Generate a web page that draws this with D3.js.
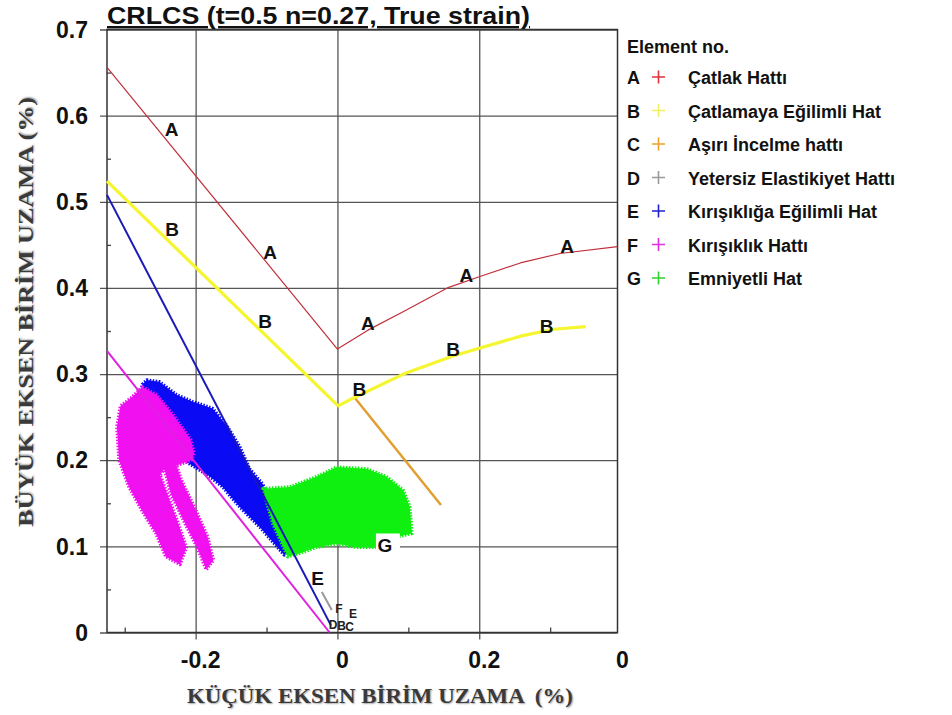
<!DOCTYPE html>
<html>
<head>
<meta charset="utf-8">
<script src="https://cdn.jsdelivr.net/npm/d3@7"></script>
<style>
  body { margin: 0; background: #fff; }
  svg { display: block; }
  .sans { font-family: "Liberation Sans", Arial, sans-serif; font-weight: bold; }
  .serif { font-family: "Liberation Serif", "Times New Roman", serif; font-weight: bold; fill: #3a3a3a; text-shadow: 1px 1px 1.5px #aaa; white-space: pre; }
</style>
</head>
<body>
<svg id="chart" width="952" height="715"></svg>
<script>
// ---- data ----
const aX = [-0.325, 0.0, 0.043, 0.092, 0.155, 0.2, 0.258, 0.314, 0.395];
const aY = [0.656, 0.329, 0.351, 0.372, 0.400, 0.413, 0.429, 0.440, 0.448];

const bX = [-0.325, 0.001, 0.022, 0.093, 0.163, 0.2, 0.258, 0.305, 0.35];
const bY = [0.524, 0.263, 0.272, 0.300, 0.321, 0.330, 0.344, 0.352, 0.355];

const cX = [0.025, 0.146];
const cY = [0.272, 0.148];

const dX = [-0.022, -0.008];
const dY = [0.047, 0.026];

const eX = [-0.325, -0.009];
const eY = [0.508, 0.008];

const fX = [-0.325, -0.011];
const fY = [0.327, 0.0];

// point clouds, outline of the dense "+" markers
const blueCloud = [
  [-0.275, 0.288], [-0.269, 0.293], [-0.251, 0.291], [-0.227, 0.276], [-0.204, 0.268],
  [-0.176, 0.260], [-0.156, 0.240], [-0.138, 0.216], [-0.124, 0.190], [-0.105, 0.172],
  [-0.091, 0.127], [-0.072, 0.092], [-0.075, 0.090], [-0.109, 0.122], [-0.138, 0.146],
  [-0.162, 0.169], [-0.180, 0.181], [-0.199, 0.191], [-0.213, 0.198], [-0.230, 0.210],
  [-0.260, 0.240], [-0.280, 0.270]
];
const magentaCloud = [
  [-0.275, 0.285], [-0.290, 0.273], [-0.306, 0.263], [-0.311, 0.239], [-0.308, 0.200],
  [-0.294, 0.169], [-0.276, 0.142], [-0.256, 0.115], [-0.242, 0.088], [-0.222, 0.079],
  [-0.213, 0.099], [-0.226, 0.130], [-0.240, 0.161], [-0.250, 0.183], [-0.244, 0.190],
  [-0.235, 0.161], [-0.217, 0.130], [-0.198, 0.099], [-0.185, 0.073], [-0.175, 0.084],
  [-0.183, 0.111], [-0.202, 0.146], [-0.220, 0.177], [-0.227, 0.194], [-0.206, 0.200],
  [-0.202, 0.208], [-0.207, 0.224], [-0.231, 0.252], [-0.255, 0.276]
];
const greenCloud = [
  [-0.105, 0.167], [-0.067, 0.169], [-0.029, 0.181], [-0.001, 0.192], [0.041, 0.190],
  [0.069, 0.181], [0.093, 0.165], [0.102, 0.146], [0.105, 0.115], [0.084, 0.111],
  [0.060, 0.099], [0.027, 0.099], [-0.001, 0.103], [-0.029, 0.099], [-0.053, 0.092],
  [-0.070, 0.088], [-0.091, 0.126]
];

// letters written on the curves [text, x, y]
const curveLabels = [
  ["A", -0.234, 0.584], ["A", -0.095, 0.441], ["A", 0.043, 0.359], ["A", 0.182, 0.415], ["A", 0.324, 0.449],
  ["B", -0.233, 0.468], ["B", -0.102, 0.362], ["B", 0.031, 0.282], ["B", 0.163, 0.329], ["B", 0.295, 0.356],
  ["E", -0.028, 0.063]
];
// small cluster of letters at the origin
const originLabels = [
  ["F", 0.002, 0.028], ["E", 0.022, 0.022], ["D", -0.006, 0.009], ["B", 0.006, 0.008], ["C", 0.017, 0.007]
];
const gLabel = ["G", 0.067, 0.101];

const xMajor = [-0.2, 0, 0.2];
const xMinor = [-0.3, -0.1, 0.1, 0.3];
const xLabelAt = [-0.2, 0, 0.2, 0.395];
const xLabelText = ["-0.2", "0", "0.2", "0"];
const yMajor = [0, 0.1, 0.2, 0.3, 0.4, 0.5, 0.6, 0.7];
const yMinor = [0.05, 0.15, 0.25, 0.35, 0.45, 0.55, 0.65];

const legendKeys = ["A", "B", "C", "D", "E", "F", "G"];
const legendNames = ["Çatlak Hattı", "Çatlamaya Eğilimli Hat", "Aşırı İncelme hattı",
  "Yetersiz Elastikiyet Hattı", "Kırışıklığa Eğilimli Hat", "Kırışıklık Hattı", "Emniyetli Hat"];
const legendColors = ["#e0303a", "#f0f060", "#e8a030", "#9a9a9a", "#2020d0", "#e030e0", "#30d030"];

// ---- layout ----
const svg = d3.select("#chart");
const pLeft = 107, pRight = 617.5, pTop = 29.5, pBottom = 632.5;
const x = d3.scaleLinear().domain([-0.325, 0.395]).range([pLeft, pRight]);
const y = d3.scaleLinear().domain([0, 0.7]).range([pBottom, pTop]);
const zip = (xs, ys) => xs.map((v, i) => [v, ys[i]]);
const line = d3.line().x(d => x(d[0])).y(d => y(d[1]));

// grid
const gridX = svg.append("g").attr("transform", `translate(0,${pTop})`)
  .call(d3.axisBottom(x).tickValues(xMajor).tickSize(pBottom - pTop + 7).tickFormat(""));
const gridY = svg.append("g").attr("transform", `translate(${pRight},0)`)
  .call(d3.axisRight(y).tickValues(yMajor).tickSize(-(pRight - pLeft + 7)).tickFormat(""));
[gridX, gridY].forEach(g => {
  g.select(".domain").remove();
  g.selectAll("line").attr("stroke", "#555").attr("stroke-width", 1.3);
});

// minor ticks
const mX = svg.append("g").attr("transform", `translate(0,${pBottom})`)
  .call(d3.axisBottom(x).tickValues(xMinor).tickSize(-5).tickFormat(""));
const mY = svg.append("g").attr("transform", `translate(${pLeft},0)`)
  .call(d3.axisLeft(y).tickValues(yMinor).tickSize(-4).tickFormat(""));
[mX, mY].forEach(g => {
  g.select(".domain").remove();
  g.selectAll("line").attr("stroke", "#444").attr("stroke-width", 1.3);
});

// frame
svg.append("rect").attr("x", pLeft).attr("y", pTop)
  .attr("width", pRight - pLeft).attr("height", pBottom - pTop)
  .attr("fill", "none").attr("stroke", "#333").attr("stroke-width", 1.5);

// clouds
const cloud = d3.line().x(d => x(d[0])).y(d => y(d[1])).curve(d3.curveLinearClosed);
[[blueCloud, "#0a0af5"], [greenCloud, "#10f010"], [magentaCloud, "#f010f0"]].forEach(([pts, col]) => {
  svg.append("path").attr("d", cloud(pts))
    .attr("fill", col).attr("stroke", col)
    .attr("stroke-width", 3.5).attr("stroke-dasharray", "1.5,1.5")
    .attr("stroke-linejoin", "round");
});

// curves
const curves = [
  [zip(fX, fY), "#e020e0", 2],
  [zip(eX, eY), "#1a1ab8", 2],
  [zip(dX, dY), "#999", 2],
  [zip(cX, cY), "#e0a030", 2.5],
  [zip(bX, bY), "#f5f530", 3.2],
  [zip(aX, aY), "#c0303a", 1.2]
];
curves.forEach(([pts, col, w]) => {
  svg.append("path").attr("d", line(pts)).attr("fill", "none")
    .attr("stroke", col).attr("stroke-width", w).attr("stroke-linejoin", "round");
});

// curve letters
svg.append("g").attr("class", "sans").style("font-size", "19px").attr("fill", "#111")
  .selectAll("text").data(curveLabels).join("text")
  .attr("x", d => x(d[1])).attr("y", d => y(d[2]))
  .attr("dy", "0.36em").attr("text-anchor", "middle").text(d => d[0]);
svg.append("g").attr("class", "sans").style("font-size", "12px").attr("fill", "#222")
  .selectAll("text").data(originLabels).join("text")
  .attr("x", d => x(d[1])).attr("y", d => y(d[2]))
  .attr("dy", "0.36em").attr("text-anchor", "middle").text(d => d[0]);

const gx = x(gLabel[1]), gy = y(gLabel[2]);
svg.append("rect").attr("x", gx - 9).attr("y", gy - 12).attr("width", 24).attr("height", 24).attr("fill", "#fff");
svg.append("text").attr("class", "sans").style("font-size", "19px").attr("fill", "#111")
  .attr("x", gx).attr("y", gy).attr("dy", "0.36em").attr("text-anchor", "middle").text(gLabel[0]);

// tick labels
svg.append("g").attr("class", "sans").style("font-size", "23px").attr("fill", "#111")
  .selectAll("text").data(xLabelAt).join("text")
  .attr("x", d => x(d) + 5).attr("y", 668).attr("text-anchor", "middle")
  .text((d, i) => xLabelText[i]);
svg.append("g").attr("class", "sans").style("font-size", "23px").attr("fill", "#111")
  .selectAll("text").data(yMajor).join("text")
  .attr("x", 88).attr("y", d => y(d)).attr("dy", "0.36em").attr("text-anchor", "end")
  .text(d => d === 0 ? "0" : d3.format(".1f")(d));

// title
svg.append("text").attr("class", "sans").style("font-size", "24px").attr("fill", "#111")
  .attr("x", 107).attr("y", 24).attr("textLength", 423).attr("lengthAdjust", "spacingAndGlyphs")
  .style("text-decoration", "underline")
  .text("CRLCS (t=0.5 n=0.27, True strain)");

// axis titles
svg.append("text").attr("class", "serif").style("font-size", "22px")
  .attr("x", 187).attr("y", 703).attr("textLength", 386).attr("lengthAdjust", "spacingAndGlyphs")
  .text("KÜÇÜK EKSEN BİRİM UZAMA  (%)");
svg.append("text").attr("class", "serif").style("font-size", "22px")
  .attr("transform", "translate(33,312) rotate(-90)").attr("text-anchor", "middle")
  .attr("textLength", 430).attr("lengthAdjust", "spacingAndGlyphs")
  .text("BÜYÜK EKSEN BİRİM UZAMA (%)");

// legend
const lg = svg.append("g").attr("class", "sans").attr("fill", "#111");
lg.append("text").attr("x", 627).attr("y", 53).style("font-size", "18px").text("Element no.");
const row = lg.selectAll("g.row").data(legendKeys).join("g").attr("class", "row")
  .attr("transform", (d, i) => `translate(0,${84 + i * 33.5})`);
row.append("text").attr("x", 627).style("font-size", "18px").text(d => d);
row.append("path").attr("d", "M652,-7h13M658.5,-13.5v13")
  .attr("stroke", (d, i) => legendColors[i]).attr("stroke-width", 1.6);
row.append("text").attr("x", 688).style("font-size", "18px").text((d, i) => legendNames[i]);
</script>
</body>
</html>
